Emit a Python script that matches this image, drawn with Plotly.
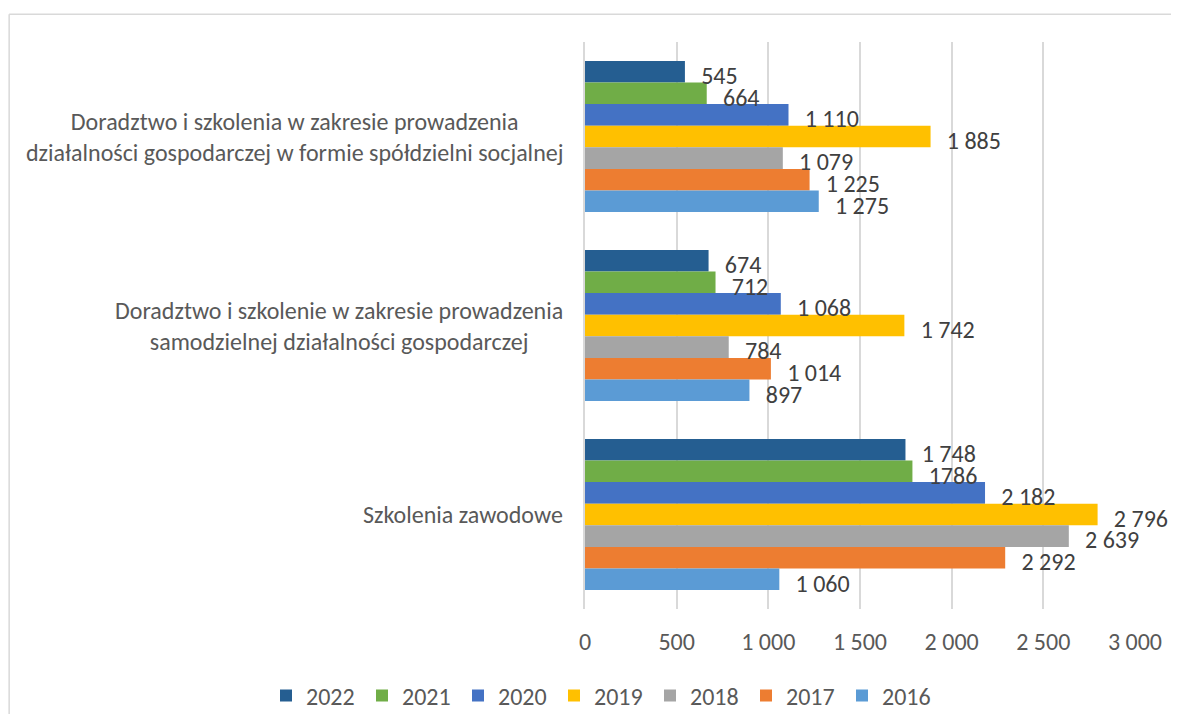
import plotly.graph_objects as go

categories = [
    "Doradztwo i szkolenia w zakresie prowadzenia<br>działalności gospodarczej w formie spółdzielni socjalnej",
    "Doradztwo i szkolenie w zakresie prowadzenia<br>samodzielnej działalności gospodarczej",
    "Szkolenia zawodowe",
]
years = ["2022", "2021", "2020", "2019", "2018", "2017", "2016"]
v2022 = [545, 674, 1748]
v2021 = [664, 712, 1786]
v2020 = [1110, 1068, 2182]
v2019 = [1885, 1742, 2796]
v2018 = [1079, 784, 2639]
v2017 = [1225, 1014, 2292]
v2016 = [1275, 897, 1060]
values = [v2022, v2021, v2020, v2019, v2018, v2017, v2016]
colors = ["#255e91", "#70ad47", "#4472c4", "#ffc000", "#a5a5a5", "#ed7d31", "#5b9bd5"]
x_ticks = [0, 500, 1000, 1500, 2000, 2500, 3000]

FONT = "Carlito, Lato, Liberation Sans, sans-serif"
W, H = 1163, 706  # page keeps an 8px body margin inside the 1179x722 window


def fmt(v, year, cat):
    # the source writes 1786 without the thousands space
    if year == "2021" and cat == 2:
        return str(v)
    return f"{v:,}".replace(",", " ")


fig = go.Figure()
for year, vals, col in zip(years, values, colors):
    fig.add_trace(go.Bar(
        y=categories, x=vals, name=year, orientation="h",
        marker=dict(color=col, line=dict(width=0)),
        offsetgroup=year,
    ))
# data labels sit on a slightly shifted twin axis so they hang just below each bar's middle
for year, vals in zip(years, values):
    fig.add_trace(go.Scatter(
        y=categories, x=vals, orientation="h", mode="text", yaxis="y2",
        text=["   " + fmt(v, year, i) for i, v in enumerate(vals)],
        textposition="bottom right",
        textfont=dict(family=FONT, size=24, color="#404040"),
        offsetgroup=year, showlegend=False, cliponaxis=False,
        hoverinfo="skip",
    ))

for cat in categories:
    fig.add_annotation(
        x=-0.036, xref="paper", y=cat, yref="y", text=cat,
        xanchor="right", align="center", showarrow=False,
        font=dict(family=FONT, size=24, color="#595959"),
    )

# chart frame: only the top and left edges fall inside the picture
fig.add_shape(type="line", xref="paper", yref="paper",
              x0=-1.047, x1=1.3, y0=1.049, y1=1.049,
              line=dict(color="#d9d9d9", width=1.5), layer="below")
fig.add_shape(type="line", xref="paper", yref="paper",
              x0=-1.047, x1=-1.047, y0=-0.4, y1=1.049,
              line=dict(color="#d9d9d9", width=1.5), layer="below")

fig.update_layout(
    width=W, height=H,
    margin=dict(l=577, r=36, t=34, b=105, autoexpand=False),
    barmode="group", bargap=0.2, bargroupgap=0,
    scattermode="group", scattergap=0.2,
    plot_bgcolor="white", paper_bgcolor="white",
    font=dict(family=FONT, size=24, color="#595959"),
    legend=dict(orientation="h", xref="paper", x=-0.58, xanchor="left",
                yref="paper", y=-0.1534, yanchor="middle",
                font=dict(size=24, color="#595959"), traceorder="normal",
                entrywidth=51, itemwidth=30, bgcolor="rgba(0,0,0,0)"),
    showlegend=True,
    xaxis=dict(range=[0, 3000], tickvals=x_ticks,
               ticktext=[f"{t:,}".replace(",", " ") for t in x_ticks],
               showgrid=True, gridcolor="#d9d9d9", gridwidth=1.5,
               zeroline=False, showline=False, ticks="",
               tickfont=dict(size=24, color="#595959"), ticklabelstandoff=16),
    yaxis=dict(type="category", categoryarray=categories, categoryorder="array",
               autorange="reversed", showticklabels=False, showgrid=False,
               showline=True, linecolor="#d9d9d9", linewidth=1.5, ticks=""),
    yaxis2=dict(overlaying="y", type="category", categoryarray=categories,
                categoryorder="array", range=[2.5 + 0.03, -0.5 + 0.03],
                visible=False),
)

fig.write_html("out.html")
